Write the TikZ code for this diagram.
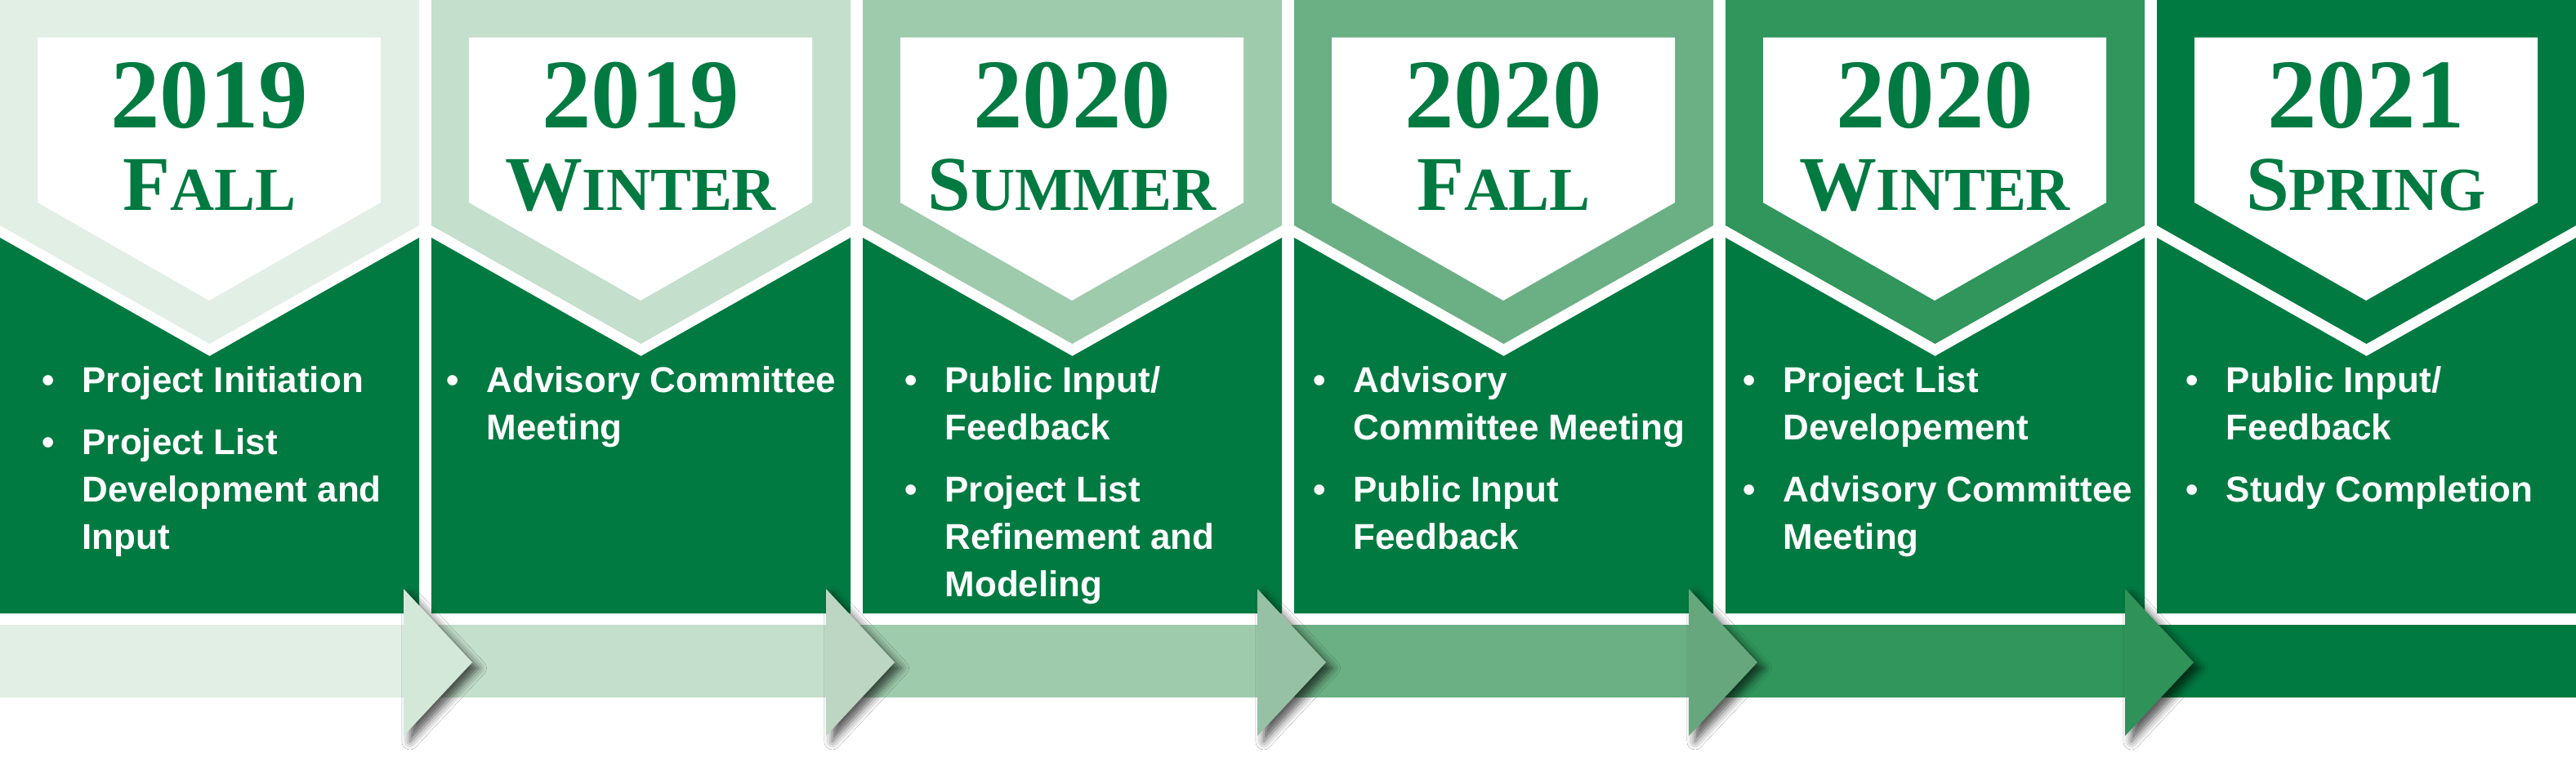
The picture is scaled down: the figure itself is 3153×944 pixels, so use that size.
\documentclass[tikz,border=0pt]{standalone}
\usepackage{fontspec}
\setmainfont{Liberation Serif}
\setsansfont{Liberation Sans}
\usetikzlibrary{shadows.blur}

\definecolor{toneA}{HTML}{E1EFE5}
\definecolor{toneB}{HTML}{C4DFCB}
\definecolor{toneC}{HTML}{9FCBAD}
\definecolor{toneD}{HTML}{6BB084}
\definecolor{toneE}{HTML}{30965C}
\definecolor{deepgreen}{HTML}{007A41}

\tikzset{
  yearlabel/.style={anchor=base, inner sep=0pt, text=deepgreen,
    font=\bfseries\fontsize{34.4}{34.4}\selectfont},
  seasonlabel/.style={anchor=base, inner sep=0pt, text=deepgreen, font=\bfseries},
  itemlist/.style={anchor=base west, inner sep=0pt, text=white,
    font=\sffamily\bfseries\fontsize{12.5}{16.5}\selectfont},
  arrowhead/.style={blur shadow={shadow xshift=2.2pt, shadow yshift=-2pt,
    shadow blur radius=2.8pt, shadow opacity=65}},
}
\newcommand{\seasonname}[2]{{\fontsize{27}{27}\selectfont #1}{\fontsize{21.3}{21.3}\selectfont #2}}
\newcommand{\bul}{\makebox[0pt]{\textbullet}}
\newenvironment{steplist}{\begin{tabular}[t]{@{}c@{\hspace{11.95pt}}l@{}}}{\end{tabular}}

\begin{document}
\begin{tikzpicture}[x=0.1mm, y=-0.1mm]
  \fill[white] (0,0) rectangle (3153,944);
  \useasboundingbox (0,0) rectangle (3153,944);
  %
  \foreach \n/\tone in {0/toneA,1/toneB,2/toneC,3/toneD,4/toneE,5/deepgreen} {
    \pgfmathsetmacro{\colx}{528*\n}
    \fill[\tone] (\colx,0) -- ++(513,0) -- ++(0,276) -- ++(-256.5,145) -- ++(-256.5,-145) -- cycle;
    \fill[deepgreen] (\colx,291) -- ++(256.5,145) -- ++(256.5,-145) -- (\colx+513,751) -- (\colx,751) -- cycle;
    \fill[white] (\colx+46,46) -- ++(420,0) -- ++(0,202) -- ++(-210,120) -- ++(-210,-120) -- cycle;
  }
  %
  \foreach \a/\b/\tone in {0/494/toneA,494/1011/toneB,1011/1539/toneC,
                           1539/2067/toneD,2067/2601/toneE,2601/3153/deepgreen}
    \fill[\tone] (\a,765) rectangle (\b,854);
  \foreach \b/\tone in {494/toneA!55!toneB,1011/toneB!96!black,1539/toneC!95!black,
                        2067/toneD!95!black,2601/toneE!97!black}
    \fill[\tone, arrowhead] (\b,721) -- (\b+84,811) -- (\b,901) -- cycle;
  %
  \node[yearlabel] (yr1) at (256,157) {2019};
  \node[yearlabel] (yr2) at (784,157) {2019};
  \node[yearlabel] (yr3) at (1312,157) {2020};
  \node[yearlabel] (yr4) at (1840,157) {2020};
  \node[yearlabel] (yr5) at (2368,157) {2020};
  \node[yearlabel] (yr6) at (2896,157) {2021};
  \node[seasonlabel] (ssn1) at (256,258) {\seasonname{F}{ALL}};
  \node[seasonlabel] (ssn2) at (784,258) {\seasonname{W}{INTER}};
  \node[seasonlabel] (ssn3) at (1312,258) {\seasonname{S}{UMMER}};
  \node[seasonlabel] (ssn4) at (1840,258) {\seasonname{F}{ALL}};
  \node[seasonlabel] (ssn5) at (2368,258) {\seasonname{W}{INTER}};
  \node[seasonlabel] (ssn6) at (2896,258) {\seasonname{S}{PRING}};
  %
  \node[itemlist] (txt1) at (58,481) {\begin{steplist}
    \bul & Project Initiation\\[5.1pt]
    \bul & Project List\\ & Development and\\ & Input
  \end{steplist}};
  \node[itemlist] (txt2) at (553,481) {\begin{steplist}
    \bul & Advisory Committee\\ & Meeting
  \end{steplist}};
  \node[itemlist] (txt3) at (1114,481) {\begin{steplist}
    \bul & Public Input/\\ & Feedback\\[5.1pt]
    \bul & Project List\\ & Refinement and\\ & Modeling
  \end{steplist}};
  \node[itemlist] (txt4) at (1614,481) {\begin{steplist}
    \bul & Advisory\\ & Committee Meeting\\[5.1pt]
    \bul & Public Input\\ & Feedback
  \end{steplist}};
  \node[itemlist] (txt5) at (2140,481) {\begin{steplist}
    \bul & Project List\\ & Developement\\[5.1pt]
    \bul & Advisory Committee\\ & Meeting
  \end{steplist}};
  \node[itemlist] (txt6) at (2682,481) {\begin{steplist}
    \bul & Public Input/\\ & Feedback\\[5.1pt]
    \bul & Study Completion
  \end{steplist}};
\end{tikzpicture}
\end{document}
